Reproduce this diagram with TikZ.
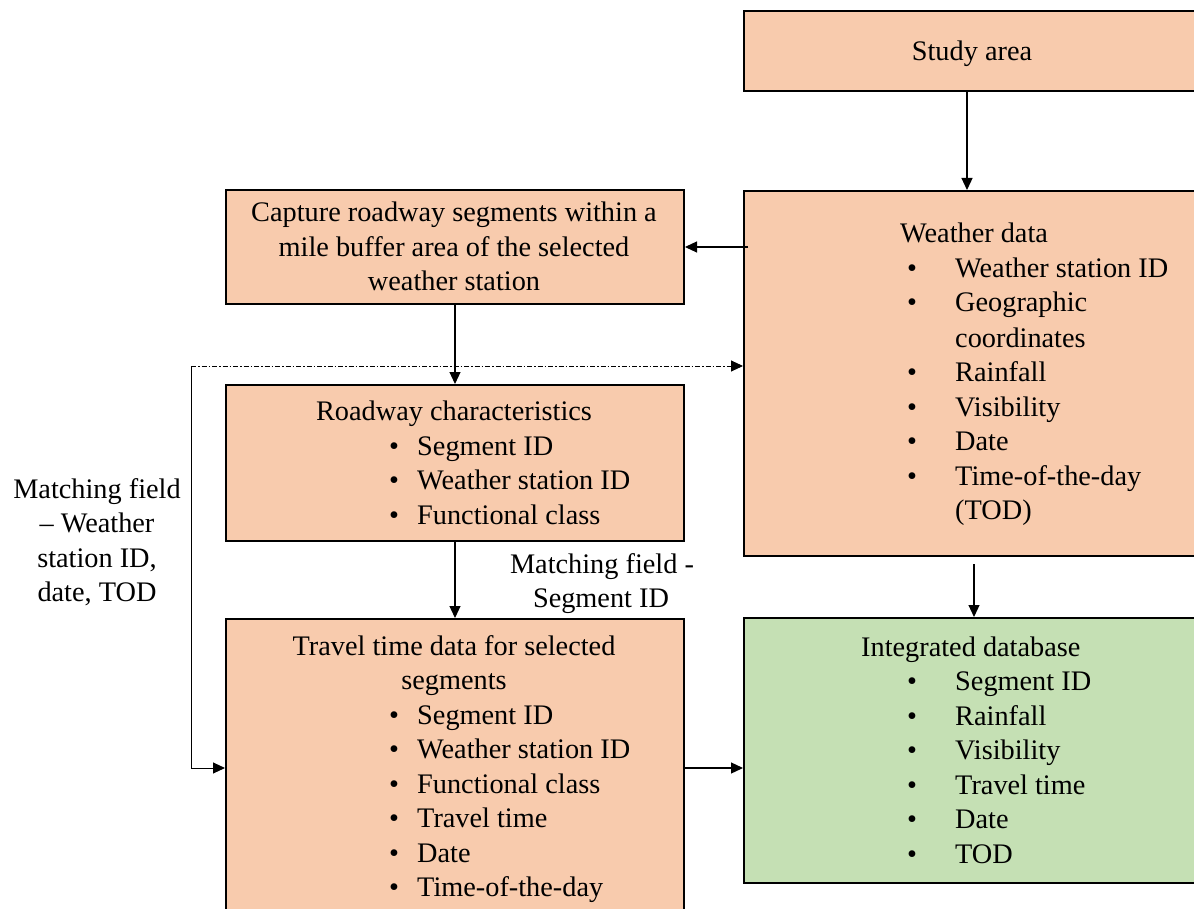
\documentclass[tikz,border=0pt]{standalone}
\usepackage{fontspec}
\setmainfont{Liberation Serif}
\usetikzlibrary{arrows.meta,calc}
\definecolor{peach}{HTML}{F8CBAD}
\definecolor{mint}{HTML}{C5E0B4}
\begin{document}
\begin{tikzpicture}[x=1pt,y=-1pt,
  box/.style={draw=black, line width=2pt, fill=peach, anchor=north west, inner sep=0pt},
  txt/.style={inner sep=0pt, font=\fontsize{28.3}{34.4}\selectfont},
  arr/.style={-{Triangle[length=12pt,width=11pt]}, line width=1.2pt},
  dashdotline/.style={line width=0.9pt, dash pattern=on 5pt off 2pt on 1.5pt off 2pt}]
\useasboundingbox (0,0) rectangle (1194,909);
\clip (0,0) rectangle (1194,909);
\fill[white] (0,0) rectangle (1194,909);
% boxes
\node[box, minimum width=460pt, minimum height=80pt] (study) at (743,10) {};
\node[box, minimum width=460pt, minimum height=365pt] (weather) at (743,190) {};
\node[box, minimum width=458pt, minimum height=114pt] (capture) at (225,189) {};
\node[box, minimum width=458pt, minimum height=156pt] (road) at (225,384) {};
\node[box, minimum width=458pt, minimum height=310pt] (travel) at (225,618) {};
\node[box, fill=mint, minimum width=460pt, minimum height=265pt] (integ) at (743,617) {};
% study area
\node[txt, anchor=base] (studyt) at (972,61) {Study area};
% capture
\node[txt, anchor=base] (cap1) at (454,222) {Capture roadway segments within a};
\node[txt, anchor=base] (cap2) at (454,257) {mile buffer area of the selected};
\node[txt, anchor=base] (cap3) at (454,291) {weather station};
% weather data
\node[txt, anchor=base west] (wtitle) at (900,243) {Weather data};
\foreach \y [count=\i] in {278,312,381,416,450,485}
  \node[txt, anchor=base] (wb\i) at (912,\y) {•};
\foreach \y/\t [count=\i] in {278/Weather station ID,312/Geographic,347/coordinates,381/Rainfall,416/Visibility,450/Date,485/Time-of-the-day,519/(TOD)}
  \node[txt, anchor=base west] (wt\i) at (955,\y) {\t};
% roadway characteristics
\node[txt, anchor=base] (rtitle) at (454,420) {Roadway characteristics};
\foreach \y/\t [count=\i] in {455/Segment ID,489/Weather station ID,524/Functional class}{
  \node[txt, anchor=base] (rb\i) at (394,\y) {•};
  \node[txt, anchor=base west] (rt\i) at (417,\y) {\t};}
% travel time
\node[txt, anchor=base] (ttitle1) at (454,655) {Travel time data for selected};
\node[txt, anchor=base] (ttitle2) at (454,689) {segments};
\foreach \y/\t [count=\i] in {724/Segment ID,758/Weather station ID,793/Functional class,827/Travel time,862/Date,896/Time-of-the-day}{
  \node[txt, anchor=base] (tb\i) at (394,\y) {•};
  \node[txt, anchor=base west] (tt\i) at (417,\y) {\t};}
% integrated database
\node[txt, anchor=base west] (ititle) at (861,656) {Integrated database};
\foreach \y/\t [count=\i] in {690/Segment ID,725/Rainfall,759/Visibility,794/Travel time,828/Date,863/TOD}{
  \node[txt, anchor=base] (ib\i) at (912,\y) {•};
  \node[txt, anchor=base west] (it\i) at (955,\y) {\t};}
% labels
\node[txt, anchor=base] (lm1) at (97,498) {Matching field};
\node[txt, anchor=base] (lm2) at (97,532) {– Weather};
\node[txt, anchor=base] (lm3) at (97,567) {station ID,};
\node[txt, anchor=base] (lm4) at (97,601) {date, TOD};
\node[txt, anchor=base] (sm1) at (602,573) {Matching field -};
\node[txt, anchor=base] (sm2) at (601,607) {Segment ID};
% connectors
\draw[arr] ([xshift=-7pt]study.south) -- ([xshift=-7pt]weather.north);
\draw[arr] ([xshift=5pt]weather.west |- capture.east) -- (capture.east);
\draw[arr] (capture.south) -- (road.north);
\draw[arr] (road.south) -- (travel.north);
\draw[arr] ([yshift=-7pt]weather.south) -- (integ.north);
\draw[arr] ([yshift=6pt]travel.east) -- ([yshift=6pt]travel.east -| integ.west);
\coordinate (corner) at (191,366);
\draw[dashdotline, -{Triangle[length=12pt,width=11pt]}] (corner) -- (corner -| weather.west);
\draw[arr, line width=1pt] (corner) |- ([yshift=6pt]travel.west);
\end{tikzpicture}
\end{document}
